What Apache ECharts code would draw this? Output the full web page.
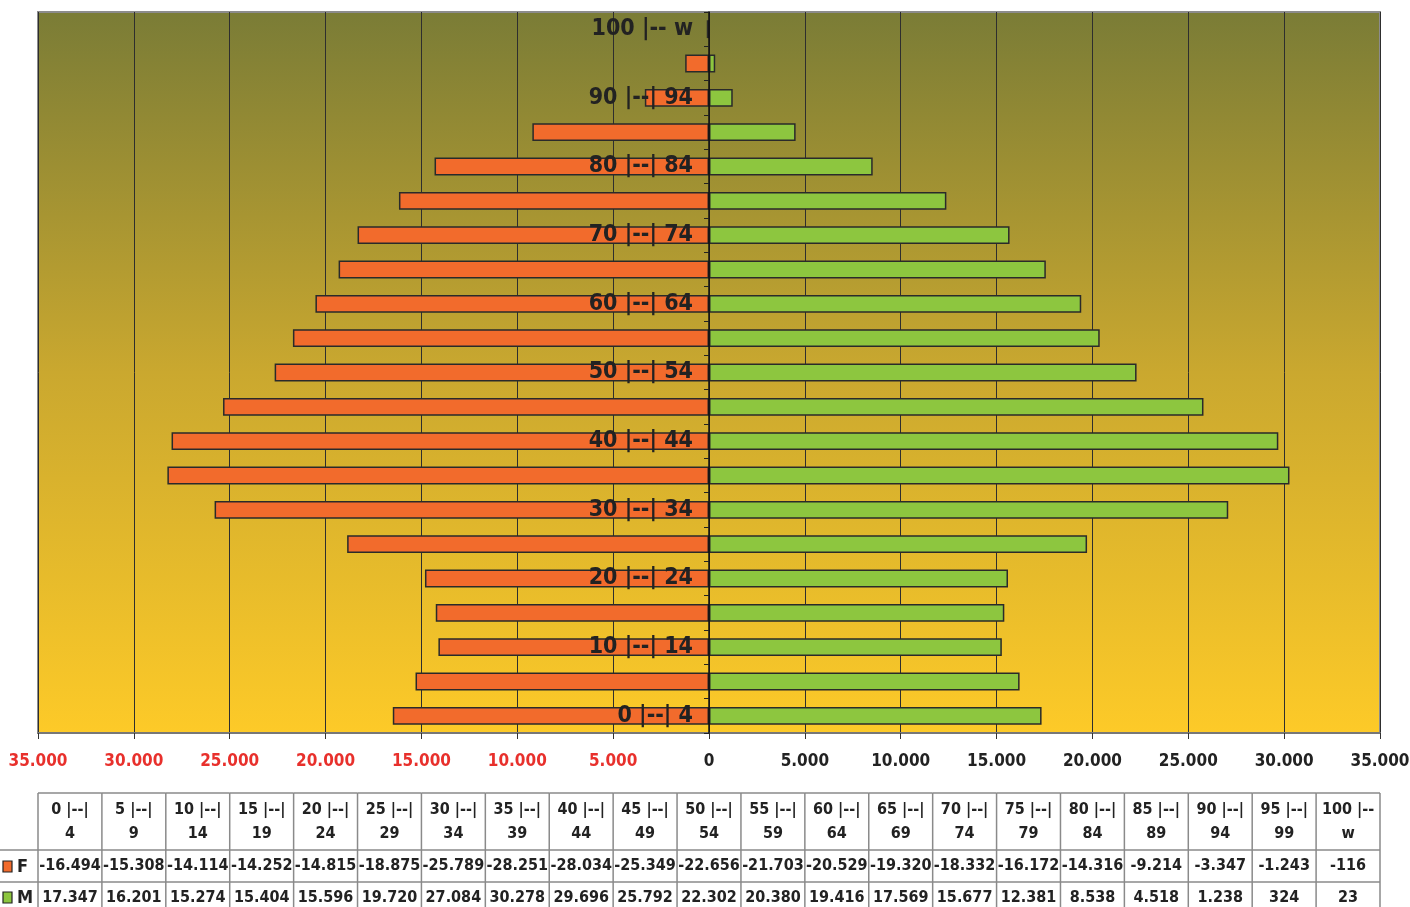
<!DOCTYPE html>
<html>
<head>
<meta charset="utf-8">
<title>Pirâmide etária</title>
<script src="https://cdn.jsdelivr.net/npm/echarts@6/dist/echarts.min.js"></script>
<style>
  html, body { margin: 0; padding: 0; background: #fff; }
  #chart { width: 1410px; height: 907px; }
</style>
</head>
<body>
<div id="chart"></div>
<script>
// Age groups, bottom to top
const ageGroups = [
  '0 |--| 4', '5 |--| 9', '10 |--| 14', '15 |--| 19', '20 |--| 24',
  '25 |--| 29', '30 |--| 34', '35 |--| 39', '40 |--| 44', '45 |--| 49',
  '50 |--| 54', '55 |--| 59', '60 |--| 64', '65 |--| 69', '70 |--| 74',
  '75 |--| 79', '80 |--| 84', '85 |--| 89', '90 |--| 94', '95 |--| 99',
  '100 |-- w'
];

// Women (drawn to the left as negative values)
const femaleValues = [
  -16494, -15308, -14114, -14252, -14815, -18875, -25789, -28251, -28034, -25349,
  -22656, -21703, -20529, -19320, -18332, -16172, -14316, -9214, -3347, -1243, -116
];

// Men
const maleValues = [
  17347, 16201, 15274, 15404, 15596, 19720, 27084, 30278, 29696, 25792,
  22302, 20380, 19416, 17569, 15677, 12381, 8538, 4518, 1238, 324, 23
];

const seriesNames = ['F', 'M'];
const axisTicks = [-35000, -30000, -25000, -20000, -15000, -10000, -5000, 0,
  5000, 10000, 15000, 20000, 25000, 30000, 35000];

const FONT = '"DejaVu Sans Condensed", "DejaVu Sans", sans-serif';
const COLOR_F = '#f26b2c';
const COLOR_M = '#8dc63f';
const TEXT = '#222222';
const RULE = '#8a8a8a';

const GRID_LEFT = 38, GRID_RIGHT = 30, CHART_W = 1410;
const plotW = CHART_W - GRID_LEFT - GRID_RIGHT;
const xMin = axisTicks[0], xMax = axisTicks[axisTicks.length - 1];
// the age axis sits on the zero line of the value axis
const zeroOffset = -plotW * (0 - xMin) / (xMax - xMin);

function fmt(v) {
  const s = Math.abs(Math.round(v)).toString().replace(/\B(?=(\d{3})+(?!\d))/g, '.');
  return (v < 0 ? '-' : '') + s;
}

function headerLines(label) {
  const k = label.lastIndexOf(' ');
  return label.slice(0, k) + '\n' + label.slice(k + 1);
}

const chart = echarts.init(document.getElementById('chart'), null, { renderer: 'canvas' });

const option = {
  animation: false,
  textStyle: { fontFamily: FONT },
  grid: [
    {
      left: GRID_LEFT, right: GRID_RIGHT, top: 12, bottom: 174,
      containLabel: false,
      outerBoundsMode: 'none',
      show: true,
      borderColor: '#8c8c8c',
      borderWidth: 2,
      backgroundColor: {
        type: 'linear', x: 0, y: 0, x2: 0, y2: 1,
        colorStops: [
          { offset: 0, color: '#7a7c36' },
          { offset: 0.5, color: '#caa82f' },
          { offset: 1, color: '#fdca28' }
        ]
      }
    },
    { left: GRID_LEFT, right: GRID_RIGHT, top: 793, height: 121, containLabel: false, outerBoundsMode: 'none' }
  ],
  xAxis: [
    {
      type: 'value',
      gridIndex: 0,
      min: xMin,
      max: xMax,
      interval: axisTicks[1] - axisTicks[0],
      axisLine: { show: true, onZero: false, lineStyle: { color: '#777', width: 2 } },
      axisTick: { show: true, length: 6, lineStyle: { color: '#333' } },
      splitLine: { show: true, lineStyle: { color: '#2e2e2e', width: 1 } },
      axisLabel: {
        margin: 20,
        fontFamily: FONT,
        fontSize: 17,
        fontWeight: 'bold',
        formatter: v => fmt(Math.abs(v)),
        color: v => (Number(v) < 0 ? '#e8302c' : TEXT)
      }
    },
    {
      type: 'category',
      gridIndex: 1,
      data: ageGroups,
      show: false
    }
  ],
  yAxis: [
    {
      type: 'category',
      gridIndex: 0,
      data: ageGroups,
      position: 'left',
      offset: zeroOffset,
      z: 10,
      axisLine: { show: true, onZero: false, lineStyle: { color: '#111', width: 1.5 } },
      axisTick: { show: true, length: 5, interval: 0, lineStyle: { color: '#222' } },
      splitLine: { show: false },
      axisLabel: {
        interval: 1,
        margin: 16,
        fontFamily: FONT,
        fontSize: 23,
        fontWeight: 'bold',
        color: TEXT
      }
    },
    {
      type: 'value',
      gridIndex: 1,
      min: 0, max: 1,
      show: false
    }
  ],
  series: [
    {
      name: seriesNames[0],
      type: 'bar',
      data: femaleValues,
      barGap: '-100%',
      barCategoryGap: '48%',
      itemStyle: { color: COLOR_F, borderColor: '#2a2a2a', borderWidth: 1.5 }
    },
    {
      name: seriesNames[1],
      type: 'bar',
      data: maleValues,
      barGap: '-100%',
      barCategoryGap: '48%',
      itemStyle: { color: COLOR_M, borderColor: '#2a2a2a', borderWidth: 1.5 }
    },
    {
      // data table under the pyramid: one column per age group
      type: 'custom',
      xAxisIndex: 1,
      yAxisIndex: 1,
      clip: false,
      silent: true,
      data: ageGroups.map((g, i) => [i, 0]),
      renderItem(params, api) {
        const i = api.value(0);
        const cx = api.coord([i, 0])[0];
        const w = api.size([1, 0])[0];
        const top = params.coordSys.y;
        const headH = 57, rowH = 32;
        const x0 = cx - w / 2, x1 = cx + w / 2;
        const bottom = top + headH + rowH * 2;
        const line = (ax, ay, bx, by) => ({
          type: 'line',
          shape: { x1: ax, y1: ay, x2: bx, y2: by },
          style: { stroke: RULE, lineWidth: 1.5 }
        });
        const cell = (txt, y) => ({
          type: 'text',
          style: {
            x: cx, y: y, text: txt,
            fill: TEXT,
            font: 'bold 16px ' + FONT,
            lineHeight: 24,
            align: 'center',
            verticalAlign: 'middle'
          }
        });
        const children = [
          line(x0, top, x0, bottom),
          line(x0, top, x1, top),
          line(x0, top + headH, x1, top + headH),
          line(x0, top + headH + rowH, x1, top + headH + rowH),
          cell(headerLines(ageGroups[i]), top + headH / 2),
          cell(fmt(femaleValues[i]), top + headH + rowH / 2),
          cell(fmt(maleValues[i]), top + headH + rowH * 1.5)
        ];
        if (i === ageGroups.length - 1) children.push(line(x1, top, x1, bottom));
        return { type: 'group', children };
      }
    }
  ],
  graphic: [
    // row keys on the left of the table
    { type: 'line', shape: { x1: 0, y1: 850, x2: 38, y2: 850 }, style: { stroke: RULE, lineWidth: 1.5 } },
    { type: 'line', shape: { x1: 0, y1: 882, x2: 38, y2: 882 }, style: { stroke: RULE, lineWidth: 1.5 } },
    { type: 'rect', shape: { x: 3, y: 861, width: 9, height: 11 }, style: { fill: COLOR_F, stroke: '#222', lineWidth: 1.2 } },
    { type: 'text', style: { x: 17, y: 867, text: seriesNames[0], fill: TEXT, font: 'bold 18px ' + FONT, verticalAlign: 'middle' } },
    { type: 'rect', shape: { x: 3, y: 892, width: 9, height: 11 }, style: { fill: COLOR_M, stroke: '#222', lineWidth: 1.2 } },
    { type: 'text', style: { x: 17, y: 898, text: seriesNames[1], fill: TEXT, font: 'bold 18px ' + FONT, verticalAlign: 'middle' } }
  ]
};

chart.setOption(option);
</script>
</body>
</html>
